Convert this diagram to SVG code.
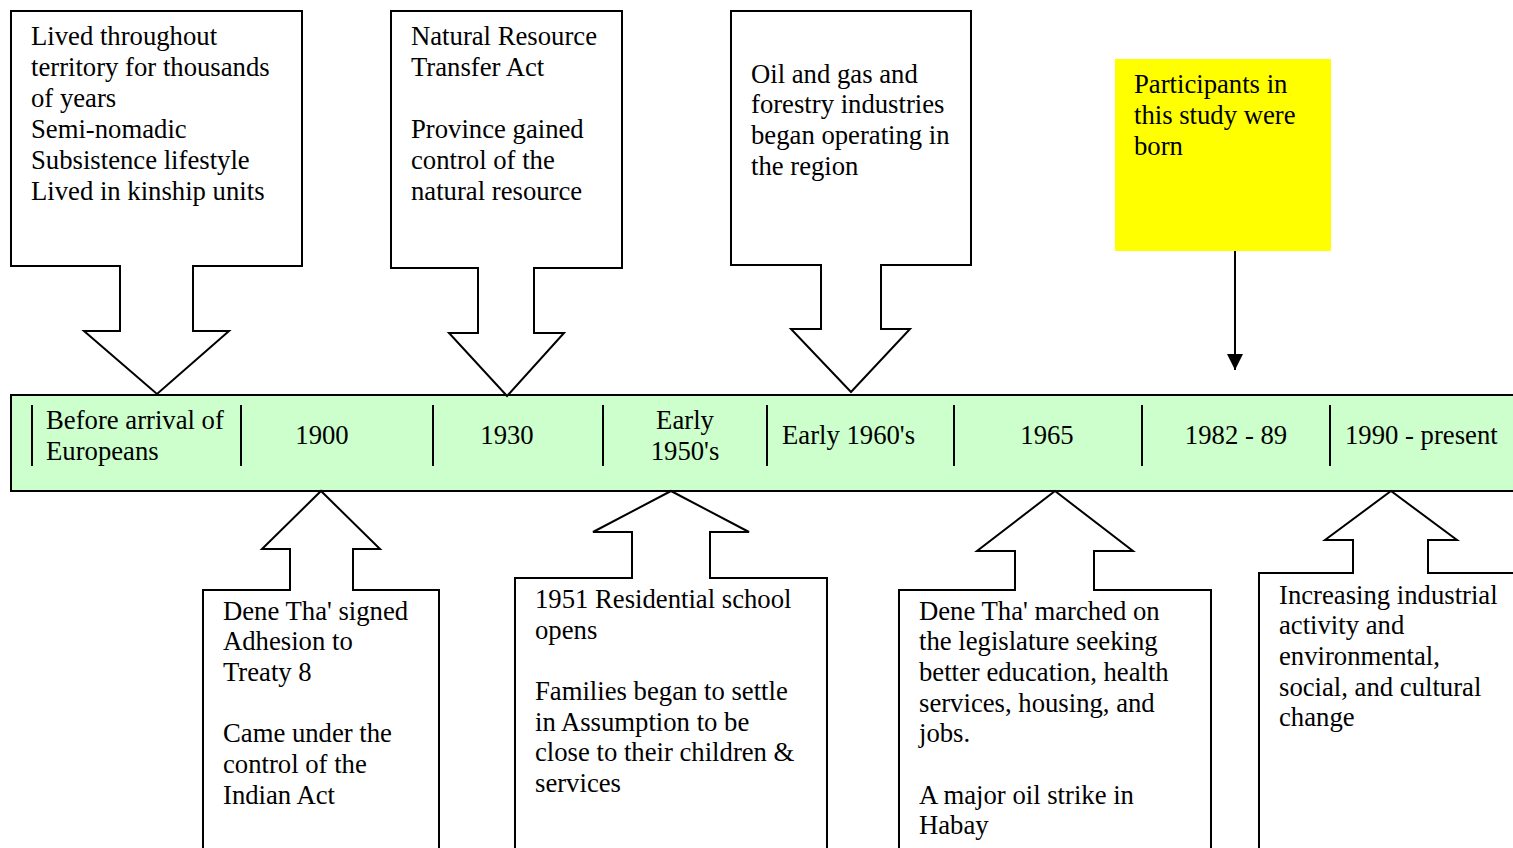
<svg xmlns="http://www.w3.org/2000/svg" width="1513" height="848" viewBox="0 0 1513 848">
<defs>
<style>
.t{font-family:"Liberation Serif","Times New Roman",serif;font-size:26.7px;fill:#000}
.c{text-anchor:middle}
.co{fill:#fff;stroke:#000;stroke-width:2;stroke-linejoin:miter}
.div{stroke:#000;stroke-width:2}
</style>
<marker id="ah" viewBox="0 0 16 16" refX="16" refY="8" markerWidth="16" markerHeight="16" markerUnits="userSpaceOnUse" orient="auto">
<path d="M0,0 L16,8 L0,16 Z" fill="#000"/>
</marker>
</defs>
<rect width="1513" height="848" fill="#fff"/>

<g id="timeline">
<rect x="11" y="395" width="1512" height="96" fill="#CCFFCC" stroke="#000" stroke-width="2"/>
<line class="div" x1="32" y1="405" x2="32" y2="466"/>
<line class="div" x1="241" y1="405" x2="241" y2="466"/>
<line class="div" x1="433" y1="405" x2="433" y2="466"/>
<line class="div" x1="603" y1="405" x2="603" y2="466"/>
<line class="div" x1="767" y1="405" x2="767" y2="466"/>
<line class="div" x1="954" y1="405" x2="954" y2="466"/>
<line class="div" x1="1142" y1="405" x2="1142" y2="466"/>
<line class="div" x1="1330" y1="405" x2="1330" y2="466"/>
<text class="t" x="46" y="429">Before arrival of</text>
<text class="t" x="46" y="460">Europeans</text>
<text class="t c" x="322" y="444">1900</text>
<text class="t c" x="507" y="444">1930</text>
<text class="t c" x="685" y="429">Early</text>
<text class="t c" x="685" y="460">1950's</text>
<text class="t" x="782" y="444">Early 1960's</text>
<text class="t c" x="1047" y="444">1965</text>
<text class="t c" x="1236" y="444">1982 - 89</text>
<text class="t" x="1345" y="444">1990 - present</text>
</g>

<g id="event-before-europeans">
<path class="co" d="M11,11 H302 V266 H193 V331 H229 L157,394 L84,331 H120 V266 H11 Z"/>
<text class="t" x="31" y="45">Lived throughout</text>
<text class="t" x="31" y="76">territory for thousands</text>
<text class="t" x="31" y="107">of years</text>
<text class="t" x="31" y="138">Semi-nomadic</text>
<text class="t" x="31" y="169">Subsistence lifestyle</text>
<text class="t" x="31" y="200">Lived in kinship units</text>
</g>

<g id="event-1930">
<path class="co" d="M391,11 H622 V268 H534 V333 H564 L507,396 L449,333 H478 V268 H391 Z"/>
<text class="t" x="411" y="45">Natural Resource</text>
<text class="t" x="411" y="76">Transfer Act</text>
<text class="t" x="411" y="138">Province gained</text>
<text class="t" x="411" y="169">control of the</text>
<text class="t" x="411" y="200">natural resource</text>
</g>

<g id="event-early-1960s">
<path class="co" d="M731,11 H971 V265 H881 V329 H910 L851,392 L791,329 H821 V265 H731 Z"/>
<text class="t" x="751" y="83">Oil and gas and</text>
<text class="t" x="751" y="113">forestry industries</text>
<text class="t" x="751" y="144">began operating in</text>
<text class="t" x="751" y="175">the region</text>
</g>

<g id="participants-born">
<rect x="1115" y="59" width="216" height="192" fill="#FFFF00"/>
<text class="t" x="1134" y="93">Participants in</text>
<text class="t" x="1134" y="124">this study were</text>
<text class="t" x="1134" y="155">born</text>
</g>

<g id="event-1900">
<path class="co" d="M203,852 V590 H290 V549 H262 L321,491 L380,549 H353 V590 H439 V852"/>
<text class="t" x="223" y="620">Dene Tha' signed</text>
<text class="t" x="223" y="650">Adhesion to</text>
<text class="t" x="223" y="681">Treaty 8</text>
<text class="t" x="223" y="742">Came under the</text>
<text class="t" x="223" y="773">control of the</text>
<text class="t" x="223" y="804">Indian Act</text>
</g>

<g id="event-early-1950s">
<path class="co" d="M515,852 V578 H632 V532 H593 L671,491 L749,532 H710 V578 H827 V852"/>
<text class="t" x="535" y="608">1951 Residential school</text>
<text class="t" x="535" y="639">opens</text>
<text class="t" x="535" y="700">Families began to settle</text>
<text class="t" x="535" y="731">in Assumption to be</text>
<text class="t" x="535" y="761">close to their children &amp;</text>
<text class="t" x="535" y="792">services</text>
</g>

<g id="event-1965">
<path class="co" d="M899,852 V590 H1015 V551 H977 L1055,491 L1133,551 H1094 V590 H1211 V852"/>
<text class="t" x="919" y="620">Dene Tha' marched on</text>
<text class="t" x="919" y="650">the legislature seeking</text>
<text class="t" x="919" y="681">better education, health</text>
<text class="t" x="919" y="712">services, housing, and</text>
<text class="t" x="919" y="742">jobs.</text>
<text class="t" x="919" y="804">A major oil strike in</text>
<text class="t" x="919" y="834">Habay</text>
</g>

<g id="event-1990-present">
<path class="co" d="M1259,852 V573 H1353 V540 H1325 L1391,491 L1457,540 H1428 V573 H1525"/>
<text class="t" x="1279" y="604">Increasing industrial</text>
<text class="t" x="1279" y="634">activity and</text>
<text class="t" x="1279" y="665">environmental,</text>
<text class="t" x="1279" y="696">social, and cultural</text>
<text class="t" x="1279" y="726">change</text>
</g>

<g id="connectors">
<line x1="1235" y1="251" x2="1235" y2="370" stroke="#000" stroke-width="2" marker-end="url(#ah)"/>
</g>
</svg>
